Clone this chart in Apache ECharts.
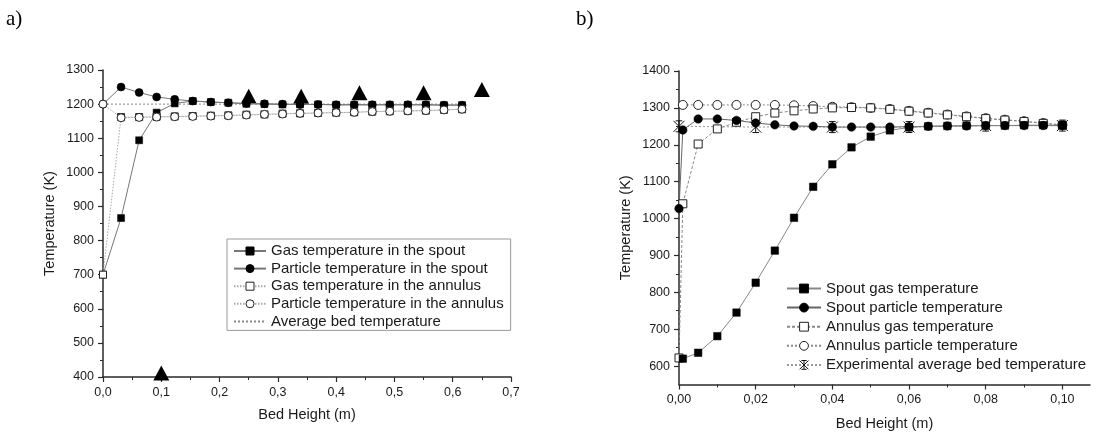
<!DOCTYPE html>
<html><head><meta charset="utf-8">
<script src="https://cdn.jsdelivr.net/npm/echarts@6/dist/echarts.min.js"></script>
<style>html,body{margin:0;padding:0;background:#fff}#c{width:1097px;height:437px}</style>
</head><body><div id="c"></div>
<script>
// ---------- Panel a ----------
const aHeights = [0, 0.031, 0.062, 0.092, 0.123, 0.154, 0.185, 0.215, 0.246, 0.277, 0.308, 0.338, 0.369, 0.400, 0.431, 0.462, 0.492, 0.523, 0.554, 0.585, 0.616];
const aSpoutGas = [700, 866, 1094, 1175, 1202, 1209, 1206, 1204, 1201, 1200, 1199, 1199, 1199, 1198, 1198, 1198, 1198, 1198, 1198, 1197, 1197];
const aSpoutParticle = [1200, 1250, 1234, 1221, 1214, 1209, 1206, 1204, 1202, 1201, 1200, 1199, 1199, 1198, 1198, 1198, 1198, 1198, 1198, 1197, 1197];
const aAnnulusGas = [700, 1162, 1162, 1163, 1164, 1165, 1166, 1167, 1169, 1170, 1172, 1173, 1174, 1175, 1176, 1178, 1179, 1180, 1181, 1183, 1185];
const aAnnulusParticle = [1200, 1160, 1161, 1162, 1163, 1164, 1165, 1166, 1168, 1170, 1171, 1173, 1174, 1175, 1176, 1178, 1179, 1180, 1181, 1183, 1185];
const aAverageBed = [1200, 1200, 1200, 1200, 1200, 1200, 1200, 1200, 1200, 1200, 1200, 1200, 1200, 1200, 1200, 1200, 1200, 1200, 1200, 1200, 1200];
const aExpHeights = [0.1, 0.25, 0.34, 0.44, 0.55, 0.65];
const aExpTemps = [412, 1223, 1223, 1233, 1233, 1243];
const aNames = ['Gas temperature in the spout', 'Particle temperature in the spout', 'Gas temperature in the annulus', 'Particle temperature in the annulus', 'Average bed temperature'];

// ---------- Panel b ----------
const bHeights = [0, 0.001, 0.005, 0.01, 0.015, 0.02, 0.025, 0.03, 0.035, 0.04, 0.045, 0.05, 0.055, 0.06, 0.065, 0.07, 0.075, 0.08, 0.085, 0.09, 0.095, 0.1];
const bSpoutGas = [null, 620, 636, 681, 745, 826, 913, 1002, 1086, 1147, 1193, 1222, 1239, 1247, 1250, 1251, 1252, 1252, 1252, 1253, 1253, 1253];
const bSpoutParticle = [1027, 1240, 1270, 1270, 1266, 1259, 1254, 1251, 1250, 1248, 1248, 1248, 1248, 1249, 1250, 1251, 1251, 1252, 1252, 1252, 1252, 1252];
const bAnnulusGas = [622, 1040, 1202, 1243, 1261, 1276, 1286, 1292, 1297, 1300, 1301, 1300, 1296, 1291, 1286, 1281, 1276, 1271, 1267, 1263, 1258, 1253];
const bAnnulusParticle = [null, 1308, 1308, 1308, 1308, 1308, 1308, 1307, 1305, 1303, 1302, 1300, 1297, 1292, 1287, 1282, 1277, 1272, 1268, 1264, 1259, 1254];
const bExpHeights = [0, 0.02, 0.04, 0.06, 0.08, 0.10];
const bExpTemps = [1250, 1248, 1248, 1248, 1252, 1252];
const bNames = ['Spout gas temperature', 'Spout particle temperature', 'Annulus gas temperature', 'Annulus particle temperature', 'Experimental average bed temperature'];
const bXMajor = [0, 0.02, 0.04, 0.06, 0.08, 0.10];
const bXMinor = [0.01, 0.03, 0.05, 0.07, 0.09];
const bYMajor = [600, 700, 800, 900, 1000, 1100, 1200, 1300, 1400];
const bYMinor = [650, 750, 850, 950, 1050, 1150, 1250, 1350];

function pairs(xs, ys) {
  const out = [];
  for (let i = 0; i < xs.length; i++) if (ys[i] !== null) out.push([xs[i], ys[i]]);
  return out;
}

const FONT = 'Liberation Sans, Arial, sans-serif';
const AX = '#2a2a2a';
const TXT = '#1a1a1a';

function valAxis(extra) {
  return Object.assign({
    type: 'value',
    splitLine: { show: false },
    axisLine: { show: true, onZero: false, lineStyle: { color: AX, width: 1.5 } },
    axisTick: { show: true, length: 5, lineStyle: { color: AX, width: 1.2 } },
    axisLabel: { color: TXT, fontSize: 12.5, fontFamily: FONT },
    nameTextStyle: { color: TXT, fontSize: 14.5, fontFamily: FONT }
  }, extra);
}

const starPath = 'path://M0,0L10,10M10,0L0,10M5,0L5,10M2,0L8,0M2,10L8,10';

const filledStyle = { color: '#000', borderColor: '#000', borderWidth: 0.5 };
const hollowStyle = { color: '#fff', borderColor: '#222', borderWidth: 1 };
const noMark = { color: 'rgba(0,0,0,0)', borderColor: 'rgba(0,0,0,0)', borderWidth: 0 };

const option = {
  animation: false,
  backgroundColor: '#fff',
  graphic: [
    { type: 'text', left: 6, top: 9, style: { text: 'a)', fontSize: 21, fontFamily: 'Liberation Serif, serif', fill: '#000' } },
    { type: 'text', left: 576, top: 9, style: { text: 'b)', fontSize: 21, fontFamily: 'Liberation Serif, serif', fill: '#000' } }
  ],
  grid: [
    { left: 103, top: 70, width: 408, height: 307 },
    { left: 679, top: 71, width: 411, height: 313.5 }
  ],
  xAxis: [
    valAxis({ gridIndex: 0, min: 0, max: 0.7, interval: 0.1, position: 'bottom',
      name: 'Bed Height (m)', nameLocation: 'middle', nameGap: 30,
      minorTick: { show: true, splitNumber: 2, length: 3, lineStyle: { color: AX, width: 1 } },
      axisLabel: { color: TXT, fontSize: 12.5, fontFamily: FONT, margin: 9, formatter: v => v.toFixed(1).replace('.', ',') } }),
    valAxis({ gridIndex: 1, min: 0, max: 0.1072, position: 'bottom',
      name: 'Bed Height (m)', nameLocation: 'middle', nameGap: 32,
      axisTick: { show: true, length: 5, customValues: bXMajor, lineStyle: { color: AX, width: 1.2 } },
      axisLabel: { color: TXT, fontSize: 12.5, fontFamily: FONT, margin: 9, customValues: bXMajor, formatter: v => v.toFixed(2).replace('.', ',') } }),
    valAxis({ gridIndex: 1, min: 0, max: 0.1072, position: 'bottom',
      axisLine: { show: false },
      axisTick: { show: true, length: 3, customValues: bXMinor, lineStyle: { color: AX, width: 1 } },
      axisLabel: { show: false } })
  ],
  yAxis: [
    valAxis({ gridIndex: 0, min: 400, max: 1300, interval: 100, position: 'left',
      name: 'Temperature (K)', nameLocation: 'middle', nameGap: 46, nameRotate: 90,
      minorTick: { show: true, splitNumber: 2, length: 3, lineStyle: { color: AX, width: 1 } },
      axisLabel: { color: TXT, fontSize: 12.5, fontFamily: FONT, margin: 9, formatter: v => String(v) } }),
    valAxis({ gridIndex: 1, min: 550, max: 1400, position: 'left',
      name: 'Temperature (K)', nameLocation: 'middle', nameGap: 46, nameRotate: 90,
      axisTick: { show: true, length: 5, customValues: bYMajor, lineStyle: { color: AX, width: 1.2 } },
      axisLabel: { color: TXT, fontSize: 12.5, fontFamily: FONT, margin: 9, customValues: bYMajor, formatter: v => String(v) } }),
    valAxis({ gridIndex: 1, min: 550, max: 1400, position: 'left',
      axisLine: { show: false },
      axisTick: { show: true, length: 3, customValues: bYMinor, lineStyle: { color: AX, width: 1 } },
      axisLabel: { show: false } })
  ],
  legend: [
    {
      data: aNames, orient: 'vertical', left: 227, top: 239,
      itemWidth: 32, itemHeight: 10, itemGap: 1.6, padding: [4, 7, 1, 6],
      borderColor: '#999', borderWidth: 1, selectedMode: false,
      itemStyle: { borderWidth: 1 },
      textStyle: { fontSize: 15, lineHeight: 16, fontFamily: FONT, color: TXT }
    },
    {
      data: bNames, orient: 'vertical', left: 786, top: 280,
      itemWidth: 34, itemHeight: 11, itemGap: 2.1, padding: 0, selectedMode: false,
      itemStyle: { borderWidth: 1 },
      textStyle: { fontSize: 15, lineHeight: 17, fontFamily: FONT, color: TXT }
    }
  ],
  series: [
    // panel a
    { name: aNames[4], type: 'line', xAxisIndex: 0, yAxisIndex: 0, data: pairs(aHeights, aAverageBed),
      symbol: 'none', lineStyle: { color: '#8a8a8a', width: 1, type: [2, 2] }, itemStyle: noMark },
    { name: aNames[1], type: 'line', xAxisIndex: 0, yAxisIndex: 0, data: pairs(aHeights, aSpoutParticle),
      symbol: 'circle', symbolSize: 8, lineStyle: { color: '#777', width: 1 }, itemStyle: filledStyle },
    { name: aNames[0], type: 'line', xAxisIndex: 0, yAxisIndex: 0, data: pairs(aHeights, aSpoutGas),
      symbol: 'rect', symbolSize: 7, lineStyle: { color: '#777', width: 1 }, itemStyle: filledStyle },
    { name: aNames[2], type: 'line', xAxisIndex: 0, yAxisIndex: 0, data: pairs(aHeights, aAnnulusGas),
      symbol: 'rect', symbolSize: 7, lineStyle: { color: '#aaa', width: 1, type: [1.5, 1.5] }, itemStyle: hollowStyle },
    { name: aNames[3], type: 'line', xAxisIndex: 0, yAxisIndex: 0, data: pairs(aHeights, aAnnulusParticle),
      symbol: 'circle', symbolSize: 8, lineStyle: { color: '#aaa', width: 1, type: [1.5, 1.5] }, itemStyle: hollowStyle },
    { name: 'exp a', type: 'scatter', xAxisIndex: 0, yAxisIndex: 0, data: pairs(aExpHeights, aExpTemps),
      symbol: 'triangle', symbolSize: [16, 15], itemStyle: { color: '#000', opacity: 1 } },
    // panel b
    { name: bNames[4], type: 'line', xAxisIndex: 1, yAxisIndex: 1, data: pairs(bExpHeights, bExpTemps),
      symbol: starPath, symbolSize: 11, lineStyle: { color: '#999', width: 1, type: [2, 2] },
      itemStyle: { color: 'rgba(0,0,0,0)', borderColor: '#111', borderWidth: 1 } },
    { name: bNames[3], type: 'line', xAxisIndex: 1, yAxisIndex: 1, data: pairs(bHeights, bAnnulusParticle),
      symbol: 'circle', symbolSize: 9, lineStyle: { color: '#888', width: 1, type: [2, 2] }, itemStyle: hollowStyle },
    { name: bNames[2], type: 'line', xAxisIndex: 1, yAxisIndex: 1, data: pairs(bHeights, bAnnulusGas),
      symbol: 'rect', symbolSize: 8, lineStyle: { color: '#888', width: 1, type: [3, 2] }, itemStyle: hollowStyle },
    { name: bNames[1], type: 'line', xAxisIndex: 1, yAxisIndex: 1, data: pairs(bHeights, bSpoutParticle),
      symbol: 'circle', symbolSize: 8.5, lineStyle: { color: '#666', width: 1 }, itemStyle: filledStyle },
    { name: bNames[0], type: 'line', xAxisIndex: 1, yAxisIndex: 1, data: pairs(bHeights, bSpoutGas),
      symbol: 'rect', symbolSize: 7.5, lineStyle: { color: '#888', width: 1 }, itemStyle: filledStyle }
  ]
};
const chart = echarts.init(document.getElementById('c'), null, { renderer: 'canvas' });
chart.setOption(option);
</script>
</body></html>
